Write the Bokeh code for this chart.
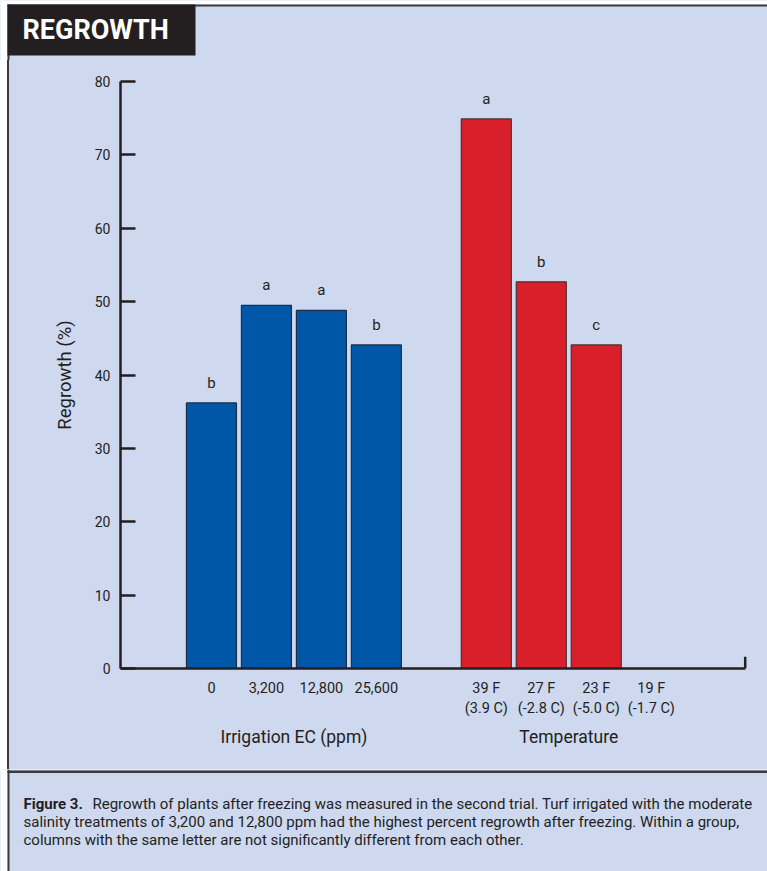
from bokeh.plotting import figure
from bokeh.models import (ColumnDataSource, LabelSet, FixedTicker, LinearAxis, Range1d, Div)
from bokeh.layouts import column, row
from bokeh.core.properties import value
from bokeh.embed import file_html
from bokeh.resources import INLINE

# ---------------- data ----------------
irrigation_labels = ["0", "3,200", "12,800", "25,600"]
irrigation_values = [36.2, 49.5, 48.8, 44.1]
irrigation_letters = ["b", "a", "a", "b"]

temperature_labels = ["39 F\n(3.9 C)", "27 F\n(-2.8 C)", "23 F\n(-5.0 C)", "19 F\n(-1.7 C)"]
temperature_values = [74.9, 52.7, 44.1, 0.0]
temperature_letters = ["a", "b", "c", ""]

group_names = ["Irrigation EC (ppm)", "Temperature"]
y_ticks = [0, 10, 20, 30, 40, 50, 60, 70, 80]
y_title = "Regrowth (%)"
panel_title = "REGROWTH"
caption_bold = "Figure 3."
caption_lines = [
    "Regrowth of plants after freezing was measured in the second trial. Turf irrigated with the moderate",
    "salinity treatments of 3,200 and 12,800 ppm had the highest percent regrowth after freezing. Within a group,",
    "columns with the same letter are not significantly different from each other.",
]

# ---------------- style ----------------
FONT = "Roboto"
INK = "#231f20"
RULE = "#3a3a3a"
BG = "#ced8ef"
BLUE = "#0057a8"
RED = "#d9202a"

W = 767


def panel(width, height):
    f = figure(width=width, height=height, title=None,
               x_range=Range1d(0, width), y_range=Range1d(height, 0),
               x_axis_type=None, y_axis_type=None,
               output_backend="svg", toolbar_location=None,
               min_border=0)
    f.background_fill_color = BG
    f.border_fill_color = BG
    f.outline_line_color = None
    return f


# ---------------- header ----------------
HH = 60
header = panel(W, HH)
header.quad(left=[0, 0], right=[7, W], top=[0, 0], bottom=[HH, 4],
            fill_color="white", line_color=None)
header.quad(left=[7], right=[W], top=[4], bottom=[6], fill_color=RULE, line_color=None)
header.quad(left=[7], right=[9], top=[4], bottom=[HH], fill_color=RULE, line_color=None)
header.quad(left=[7], right=[195], top=[4], bottom=[55], fill_color=INK, line_color=None)
header.text(x=[22], y=[29.5], text=[panel_title], text_color="white",
            text_font=value(FONT), text_font_style="bold", text_font_size="27px",
            text_align="left", text_baseline="middle")

# ---------------- main chart ----------------
MH = 709
strip = Div(text="", width=9, height=MH,
            styles={"background-color": "white", "border-right": "2px solid " + RULE,
                    "box-sizing": "border-box", "margin": "0", "padding": "0"})

n_irr = len(irrigation_labels)
irr_x = list(range(n_irr))
tmp_x = [n_irr + 1 + i for i in range(len(temperature_labels))]
X_START, X_AXIS_END = -1.655, 9.71

p = figure(width=W - 9, height=MH, title=None,
           x_range=Range1d(X_START, X_AXIS_END + 0.06), y_range=Range1d(0, 80),
           x_axis_type=None, y_axis_type=None,
           output_backend="svg", toolbar_location=None,
           min_border_left=111, min_border_right=19,
           min_border_top=21, min_border_bottom=101,
           styles={"background-color": BG})
p.background_fill_color = None
p.border_fill_color = None
p.outline_line_color = None

yaxis = LinearAxis(ticker=FixedTicker(ticks=y_ticks), axis_label=y_title,
                   major_tick_in=15, major_tick_out=0,
                   minor_tick_in=0, minor_tick_out=0,
                   axis_line_width=2.5, major_tick_line_width=2.5,
                   axis_line_color=INK, major_tick_line_color=INK,
                   major_label_text_font=FONT, major_label_text_font_size="14px",
                   major_label_text_color=INK, major_label_standoff=10,
                   axis_label_text_font=FONT, axis_label_text_font_size="18.5px",
                   axis_label_text_font_style="normal", axis_label_text_color=INK,
                   axis_label_standoff=16)
p.add_layout(yaxis, "left")

overrides = {}
for xi, lab in zip(irr_x + tmp_x, irrigation_labels + temperature_labels):
    overrides[xi] = lab
xaxis = LinearAxis(ticker=FixedTicker(ticks=irr_x + tmp_x),
                   major_label_overrides=overrides,
                   bounds=(X_START, X_AXIS_END),
                   major_tick_in=0, major_tick_out=0,
                   minor_tick_in=0, minor_tick_out=0,
                   axis_line_width=2.5, axis_line_color=INK,
                   major_label_text_font=FONT, major_label_text_font_size="14.5px",
                   major_label_text_color=INK, major_label_standoff=11)
p.add_layout(xaxis, "below")

group_x = [sum(irr_x) / len(irr_x), sum(tmp_x) / len(tmp_x)]
gaxis = LinearAxis(ticker=FixedTicker(ticks=group_x),
                   major_label_overrides={gx: g for gx, g in zip(group_x, group_names)},
                   axis_line_color=None,
                   major_tick_in=0, major_tick_out=0,
                   minor_tick_in=0, minor_tick_out=0,
                   major_label_text_font=FONT, major_label_text_font_size="17.5px",
                   major_label_text_color=INK, major_label_standoff=7)
p.add_layout(gaxis, "below")

p.segment(x0=[X_AXIS_END], y0=[0], x1=[X_AXIS_END], y1=[1.6],
          line_width=2.5, line_color=INK)

outline = ["#1d2f45"] * n_irr + ["#4a3033" if v > 0 else "#9a1c22" for v in temperature_values]
bars = ColumnDataSource(dict(
    x=irr_x + tmp_x,
    top=irrigation_values + temperature_values,
    color=[BLUE] * n_irr + [RED] * len(temperature_values),
    outline=outline,
    letter=irrigation_letters + temperature_letters,
))
p.vbar(x="x", top="top", width=0.91, fill_color="color", line_color="outline",
       line_width=1.2, source=bars)

p.add_layout(LabelSet(x="x", y="top", text="letter", source=bars, y_offset=15,
                      text_align="center", text_baseline="alphabetic",
                      text_font=value(FONT), text_font_size="15px", text_color=INK))

# ---------------- caption ----------------
CH = 871 - HH - MH
cap = panel(W, CH)
cap.quad(left=[0], right=[7], top=[0], bottom=[CH], fill_color="white", line_color=None)
cap.quad(left=[7], right=[9], top=[0], bottom=[CH], fill_color=RULE, line_color=None)
cap.quad(left=[7], right=[W], top=[1], bottom=[3.5], fill_color=RULE, line_color=None)
cap.text(x=[23], y=[34], text=[caption_bold], text_color=INK,
         text_font=value(FONT), text_font_style="bold", text_font_size="15px",
         text_align="left", text_baseline="middle")
cap.text(x=[92, 23, 23], y=[34, 52, 70], text=caption_lines, text_color=INK,
         text_font=value(FONT), text_font_size="15px",
         text_align="left", text_baseline="middle")

layout = column(header, row(strip, p), cap)
open("out.html", "w").write(file_html(layout, INLINE))
